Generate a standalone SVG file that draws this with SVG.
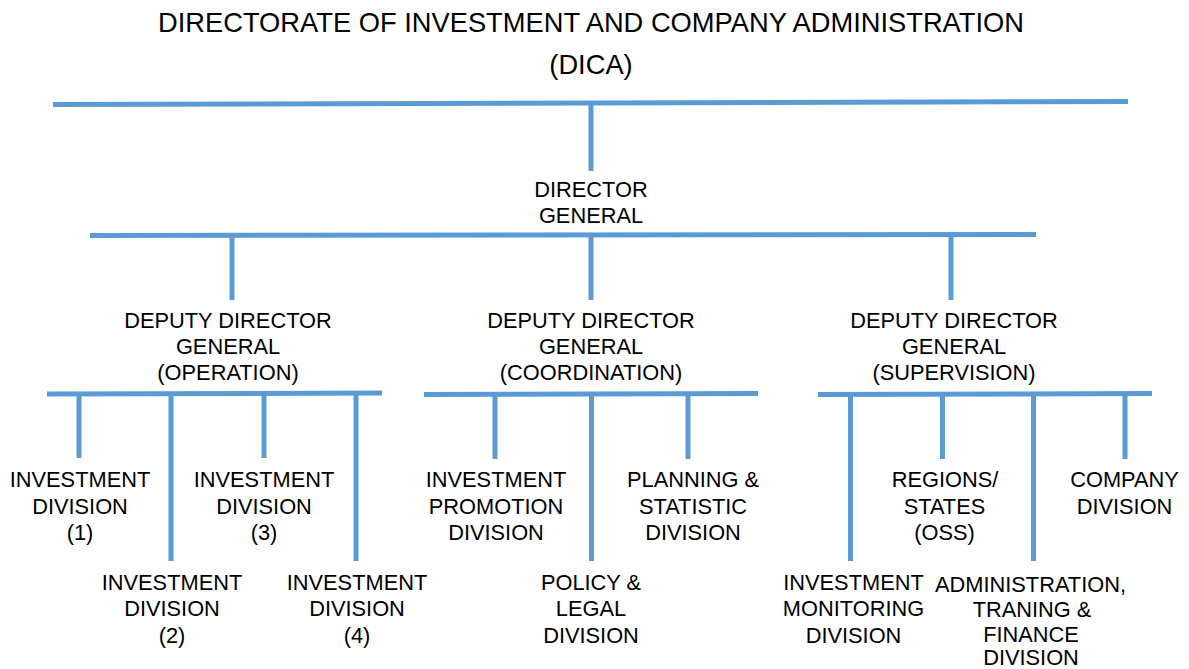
<svg xmlns="http://www.w3.org/2000/svg" width="1189" height="669" viewBox="0 0 1189 669">
  <style>
    .t { font-family: "Liberation Sans", Arial, sans-serif; fill: #000; text-anchor: middle; }
    .title { font-size: 27.3px; }
    .lbl { font-size: 21.8px; }
    .ln { stroke: #5B9BD5; stroke-width: 5; fill: none; stroke-linecap: butt; }
  </style>
  <rect width="1189" height="669" fill="#fff"/>

  <g id="title">
    <text class="t title" x="591" y="32">DIRECTORATE OF INVESTMENT AND COMPANY ADMINISTRATION</text>
    <text class="t title" x="591" y="74">(DICA)</text>
  </g>

  <g id="connectors">
    <!-- top bar and drop to director general -->
    <path class="ln" d="M53 104.5 L1128 101.5"/>
    <path class="ln" d="M591 103 V171"/>
    <!-- director general bar and drops to deputies -->
    <path class="ln" d="M90 235.5 L1036 234.5"/>
    <path class="ln" d="M232 235 V300"/>
    <path class="ln" d="M591 235 V300"/>
    <path class="ln" d="M951 235 V300"/>
    <!-- operation bar -->
    <path class="ln" d="M47 394 L382 393"/>
    <path class="ln" d="M79 393.5 V458"/>
    <path class="ln" d="M171 393.5 V561"/>
    <path class="ln" d="M264 393.5 V458"/>
    <path class="ln" d="M356 393.5 V561"/>
    <!-- coordination bar -->
    <path class="ln" d="M424 394.5 L758 393.5"/>
    <path class="ln" d="M495 394 V459"/>
    <path class="ln" d="M591.5 394 V561"/>
    <path class="ln" d="M688 394 V459"/>
    <!-- supervision bar -->
    <path class="ln" d="M818 394.5 L1152 393.5"/>
    <path class="ln" d="M850.5 394 V561"/>
    <path class="ln" d="M942.5 394 V459"/>
    <path class="ln" d="M1033.5 394 V561"/>
    <path class="ln" d="M1125 394 V459"/>
  </g>

  <g id="director-general">
    <text class="t lbl" x="591" y="197">DIRECTOR</text>
    <text class="t lbl" x="591" y="222.5">GENERAL</text>
  </g>

  <g id="ddg-operation">
    <text class="t lbl" x="228" y="327.5">DEPUTY DIRECTOR</text>
    <text class="t lbl" x="228" y="354">GENERAL</text>
    <text class="t lbl" x="228" y="380">(OPERATION)</text>
  </g>
  <g id="ddg-coordination">
    <text class="t lbl" x="591" y="327.5">DEPUTY DIRECTOR</text>
    <text class="t lbl" x="591" y="354">GENERAL</text>
    <text class="t lbl" x="591" y="380">(COORDINATION)</text>
  </g>
  <g id="ddg-supervision">
    <text class="t lbl" x="954" y="327.5">DEPUTY DIRECTOR</text>
    <text class="t lbl" x="954" y="354">GENERAL</text>
    <text class="t lbl" x="954" y="380">(SUPERVISION)</text>
  </g>

  <g id="investment-division-1">
    <text class="t lbl" x="80" y="487">INVESTMENT</text>
    <text class="t lbl" x="80" y="513.5">DIVISION</text>
    <text class="t lbl" x="80" y="540">(1)</text>
  </g>
  <g id="investment-division-2">
    <text class="t lbl" x="172" y="589.5">INVESTMENT</text>
    <text class="t lbl" x="172" y="616">DIVISION</text>
    <text class="t lbl" x="172" y="642.5">(2)</text>
  </g>
  <g id="investment-division-3">
    <text class="t lbl" x="264" y="487">INVESTMENT</text>
    <text class="t lbl" x="264" y="513.5">DIVISION</text>
    <text class="t lbl" x="264" y="540">(3)</text>
  </g>
  <g id="investment-division-4">
    <text class="t lbl" x="357" y="589.5">INVESTMENT</text>
    <text class="t lbl" x="357" y="616">DIVISION</text>
    <text class="t lbl" x="357" y="642.5">(4)</text>
  </g>

  <g id="investment-promotion">
    <text class="t lbl" x="496" y="487">INVESTMENT</text>
    <text class="t lbl" x="496" y="513.5">PROMOTION</text>
    <text class="t lbl" x="496" y="540">DIVISION</text>
  </g>
  <g id="policy-legal">
    <text class="t lbl" x="591" y="589.5">POLICY &amp;</text>
    <text class="t lbl" x="591" y="616">LEGAL</text>
    <text class="t lbl" x="591" y="642.5">DIVISION</text>
  </g>
  <g id="planning-statistic">
    <text class="t lbl" x="693" y="487">PLANNING &amp;</text>
    <text class="t lbl" x="693" y="513.5">STATISTIC</text>
    <text class="t lbl" x="693" y="540">DIVISION</text>
  </g>

  <g id="investment-monitoring">
    <text class="t lbl" x="853.5" y="589.5">INVESTMENT</text>
    <text class="t lbl" x="853.5" y="616">MONITORING</text>
    <text class="t lbl" x="853.5" y="642.5">DIVISION</text>
  </g>
  <g id="regions-states">
    <text class="t lbl" x="945" y="487">REGIONS/</text>
    <text class="t lbl" x="944.5" y="513.5">STATES</text>
    <text class="t lbl" x="944.5" y="540">(OSS)</text>
  </g>
  <g id="admin-training-finance">
    <text class="t lbl" x="1030.5" y="591.5">ADMINISTRATION,</text>
    <text class="t lbl" x="1032" y="616.5">TRANING &amp;</text>
    <text class="t lbl" x="1031" y="641.5">FINANCE</text>
    <text class="t lbl" x="1031" y="665">DIVISION</text>
  </g>
  <g id="company-division">
    <text class="t lbl" x="1124.5" y="487">COMPANY</text>
    <text class="t lbl" x="1124.5" y="513.5">DIVISION</text>
  </g>
</svg>
